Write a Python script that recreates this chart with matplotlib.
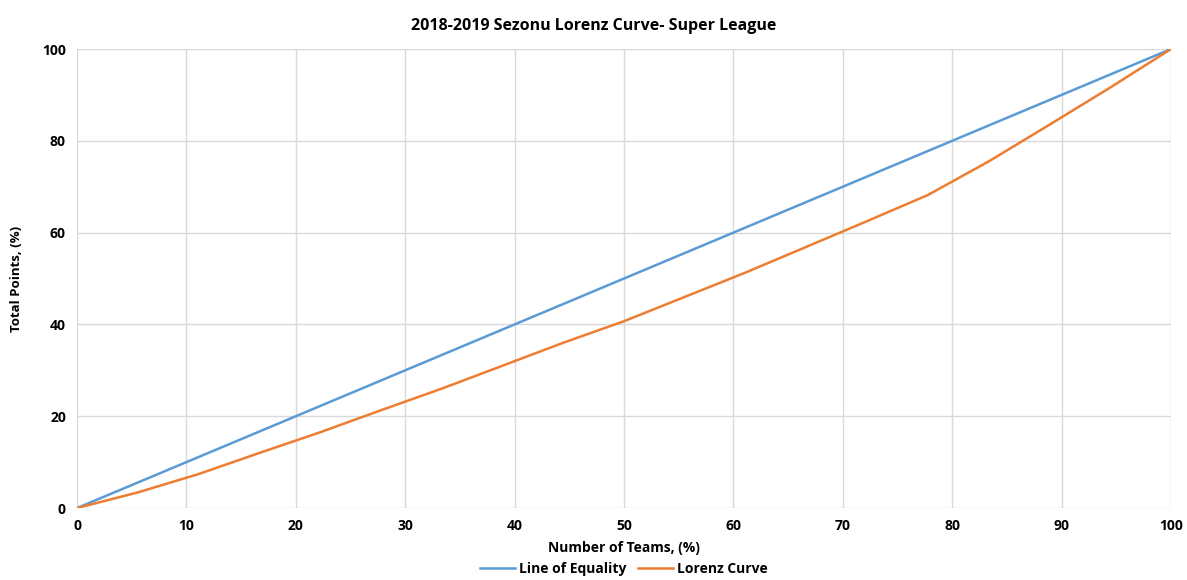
import matplotlib.pyplot as plt

# share of teams (%) - 18 teams in the league
teams_pct = [0, 5.56, 11.11, 16.67, 22.22, 27.78, 33.33, 38.89, 44.44, 50.0,
             55.56, 61.11, 66.67, 72.22, 77.78, 83.33, 88.89, 94.44, 100.0]
# cumulative share of total points (%)
lorenz_pct = [0, 3.4, 7.4, 12.0, 16.5, 21.3, 26.0, 31.0, 36.0, 40.7,
              46.0, 51.3, 56.9, 62.5, 68.2, 75.5, 83.5, 91.6, 100.0]
equality_pct = [0, 100]

title = '2018-2019 Sezonu Lorenz Curve- Super League'
xticks = list(range(0, 101, 10))
yticks = list(range(0, 101, 20))

plt.rcParams['font.family'] = ['Open Sans', 'DejaVu Sans']

fig = plt.figure(figsize=(11.87, 5.80), dpi=100)
ax = fig.add_axes([0.0649, 0.1241, 0.9216, 0.7914])

ax.plot(equality_pct, equality_pct, color='#5B9BD5', lw=1.8, label='Line of Equality')
ax.plot(teams_pct, lorenz_pct, color='#ED7D31', lw=1.8, label='Lorenz Curve')

ax.set_xlim(0, 100)
ax.set_ylim(0, 100)
ax.set_xticks(xticks)
ax.set_yticks(yticks)
ax.grid(True, color='#D9D9D9', lw=1)
ax.set_axisbelow(True)
for s in ax.spines.values(): s.set_visible(False)
ax.tick_params(length=0, labelsize=10, pad=8)
for lbl in ax.get_xticklabels() + ax.get_yticklabels(): lbl.set_fontweight('bold')

ax.set_xlabel('Number of Teams, (%)', fontsize=10, fontweight='bold', labelpad=6)
ax.set_ylabel('Total Points, (%)', fontsize=9.5, fontweight='bold', labelpad=14)
fig.text(0.5, 0.955, title, ha='center', va='center', fontsize=11.5, fontweight='bold')

leg = ax.legend(loc='center', bbox_to_anchor=(0.5, -0.133), ncol=2, frameon=False,
                prop={'size': 10, 'weight': 'bold'}, handlelength=2.5, columnspacing=0.8,
                handletextpad=0.3, borderpad=0)

fig.savefig('out.png', dpi=100)
